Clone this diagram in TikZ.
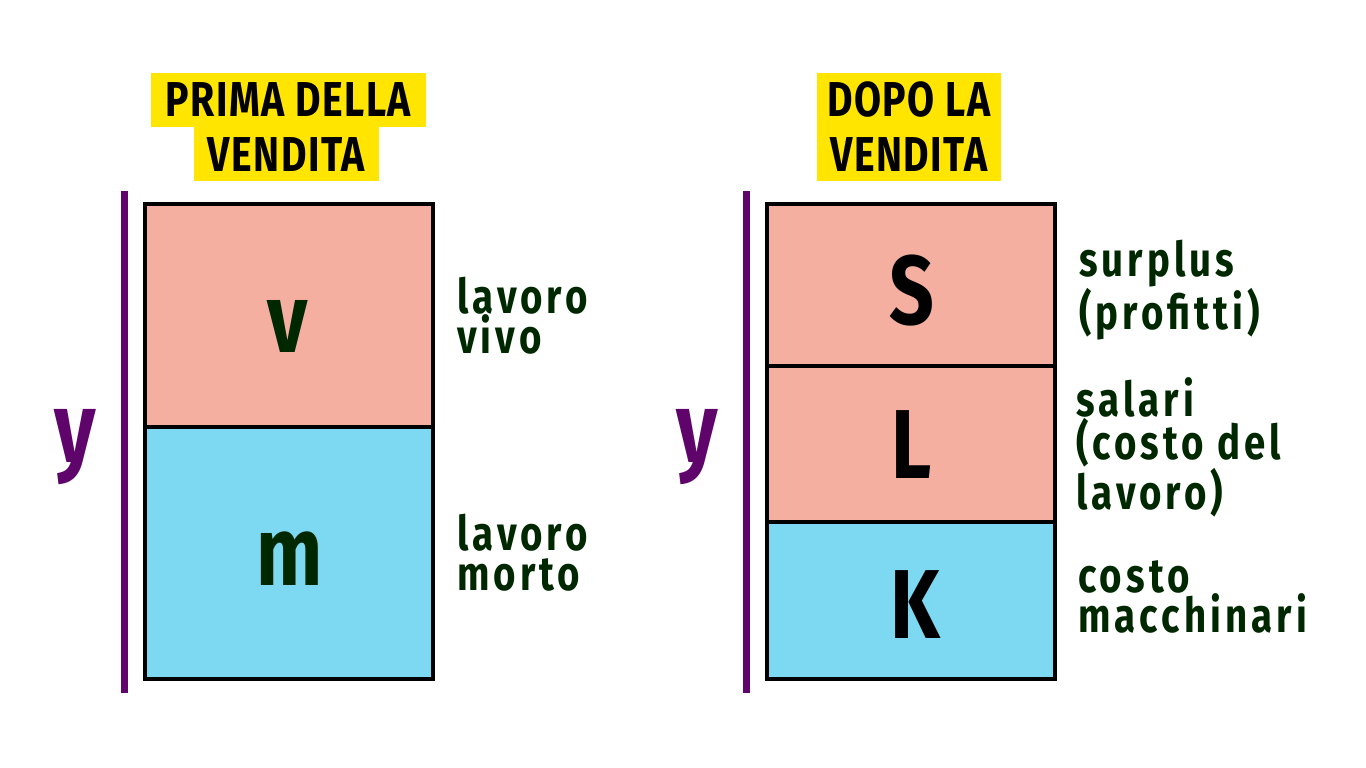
\documentclass[tikz,border=0pt]{standalone}
\usepackage{fontspec}
\newfontfamily\cond{Fira Sans}[FakeStretch=0.8]
\newfontfamily\condlab{Fira Sans}[FakeStretch=0.8,LetterSpace=8.5]
\newfontfamily\condtit{Fira Sans}[FakeStretch=0.8,LetterSpace=3]
\definecolor{pinkc}{HTML}{F5AFA0}
\definecolor{bluec}{HTML}{7DD8F2}
\definecolor{yell}{HTML}{FFE500}
\definecolor{purp}{HTML}{5E046A}
\definecolor{dgreen}{HTML}{002800}
\begin{document}
\begin{tikzpicture}[x=1pt,y=-1pt,
  cell/.style={draw=black,line width=4pt,minimum width=288pt,inner sep=0pt,outer sep=0pt},
  title/.style={fill=yell,inner sep=0pt,minimum height=54pt,font=\condtit\bfseries\fontsize{49}{54}\selectfont,text height=34pt,text depth=0pt},
  lab/.style={anchor=north west,inner sep=0pt,align=left,text=dgreen,font=\condlab\bfseries\fontsize{48}{40}\selectfont},
  big/.style={anchor=base,inner sep=0pt,font=\cond\bfseries\fontsize{98}{98}\selectfont},
  ylab/.style={anchor=base,inner sep=0pt,text=purp,font=\cond\bfseries\fontsize{100}{100}\selectfont},
  bar/.style={draw=purp,line width=7pt}]
\useasboundingbox (0,0) rectangle (1366,768);
% titles
\node[title,minimum width=275pt] (t1a) at (288.5,100) {PRIMA DELLA};
\node[title,minimum width=185pt] (t1b) at (286.5,154) {VENDITA};
\node[title,minimum width=184pt] (t2a) at (909,100) {DOPO LA};
\node[title,minimum width=184pt] (t2b) at (909,154) {VENDITA};
% left column
\node[cell,fill=pinkc,minimum height=223pt] (vbox) at (289,315.5) {};
\node[cell,fill=bluec,minimum height=252pt] (mbox) at (289,553) {};
\node[big,text=dgreen] (v) at (288,352) {v};
\node[big,text=dgreen] (m) at (290,585) {m};
\coordinate (la) at (124,191);
\coordinate (lb) at (124,693);
\draw[bar] (la) -- (lb);
\node[ylab] (y1) at (75,462) {y};
\node[lab] (lv) at (457,277) {lavoro\\vivo};
\node[lab] (lm) at (457,514) {lavoro\\morto};
% right column
\node[cell,fill=pinkc,minimum height=162pt] (sbox) at (911,285) {};
\node[cell,fill=pinkc,minimum height=156pt] (lbox) at (911,444) {};
\node[cell,fill=bluec,minimum height=157pt] (kbox) at (911,600.5) {};
\node[big,text=black] (S) at (912,324) {S};
\node[big,text=black] (L) at (912,478) {L};
\node[big,text=black] (K) at (915,638) {K};
\coordinate (ra) at (746,191);
\coordinate (rb) at (746,693);
\draw[bar] (ra) -- (rb);
\node[ylab] (y2) at (697,462) {y};
\node[lab] (ls) at (1079,240) {surplus\\(profitti)};
\node[lab] (ll) at (1076,377) {salari\\(costo del\\lavoro)};
\node[lab] (lk) at (1078,560) {costo\\macchinari};
\end{tikzpicture}
\end{document}
